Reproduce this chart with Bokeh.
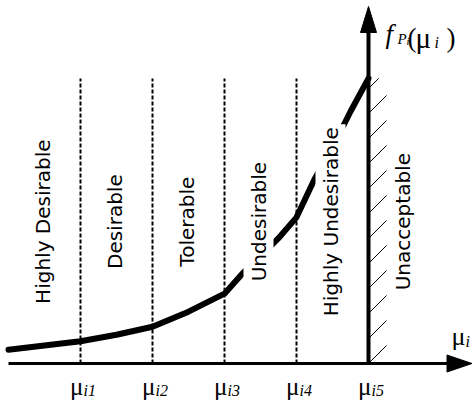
import numpy as np
from bokeh.plotting import figure
from bokeh.models import Range1d
from bokeh.core.properties import value
from bokeh.embed import file_html
from bokeh.resources import INLINE

# ---------------- data ----------------
boundaries = [0, 1, 2, 3, 4, 5, 6]
region_labels = ["Highly Desirable", "Desirable", "Tolerable",
                 "Undesirable", "Highly Undesirable", "Unacceptable"]
tick_pos = [1, 2, 3, 4, 5]
tick_main = "μ"
tick_sub = ["i1", "i2", "i3", "i4", "i5"]
curve_x = [0, 0.5, 1, 1.5, 2, 2.5, 3, 3.25, 3.5, 3.75, 4, 4.25, 4.5, 4.75, 5]
curve_f = [0.19, 0.25, 0.31, 0.40, 0.51, 0.72, 0.97, 1.25, 1.49, 1.74, 2.03,
           2.56, 3.00, 3.50, 3.96]
f_max = 3.96
label_level = 1.97

# ---------------- layout ----------------
PX = 72.0                 # screen pixels per data unit
W, H = 472, 401
OX, OY = 8, 363           # screen position of the data origin


def dx(px):               # screen x -> data x
    return (px - OX) / PX


def dy(py):               # screen y -> data y
    return (OY - py) / PX


p = figure(width=W, height=H, x_range=Range1d(dx(0), dx(W)),
           y_range=Range1d(dy(H), dy(0)), output_backend="svg",
           toolbar_location=None, min_border=0, x_axis_location=None,
           y_axis_location=None, outline_line_color=None,
           background_fill_color="white", border_fill_color="white")
p.xgrid.grid_line_color = None
p.ygrid.grid_line_color = None

# dashed region boundaries
dash_x = tick_pos[:-1]
p.segment(x0=dash_x, y0=[0] * len(dash_x), x1=dash_x, y1=[f_max] * len(dash_x),
          line_dash="4 2", line_width=2, line_color="black")

# hatch of the unacceptable side
xa = tick_pos[-1]
hs, hl = 25 / PX, 18 / PX
ys = np.arange(0, f_max, hs)
ye = np.minimum(ys + hl, f_max)
p.segment(x0=np.full(len(ys), xa), y0=ys, x1=xa + (ye - ys), y1=ye,
          line_width=1, line_color="black")

# preference curve
p.line(curve_x, curve_f, line_width=6, line_color="black",
       line_cap="round", line_join="round")

# horizontal axis with arrow
x_tip = dx(471.5)
ah_l, ah_w = 25 / PX, 8.5 / PX
p.segment(x0=[0], y0=[0], x1=[x_tip - ah_l + 0.02], y1=[0], line_width=3, line_color="black")
p.patch([x_tip - ah_l, x_tip, x_tip - ah_l], [ah_w, 0, -ah_w], color="black")

# vertical axis with arrow
y_tip = dy(6)
av_l, av_w = 26 / PX, 8 / PX
p.segment(x0=[xa], y0=[0], x1=[xa], y1=[y_tip - av_l + 0.02], line_width=4, line_color="black")
p.patch([xa - av_w, xa, xa + av_w], [y_tip - av_l, y_tip, y_tip - av_l], color="black")

# region labels (white box hides the curve behind them)
centers = [(boundaries[k] + boundaries[k + 1]) / 2 for k in range(len(region_labels))]
p.text(x=centers, y=[label_level] * len(centers), text=region_labels,
       angle=np.pi / 2, text_align="center", text_baseline="alphabetic",
       x_offset=-2, text_font=value("DejaVu Sans"), text_font_size="20px",
       text_color="black", background_fill_color="white", padding=3)

# tick labels  μ_{ik}
p.text(x=tick_pos, y=[dy(386)] * len(tick_pos), text=[tick_main] * len(tick_pos),
       text_align="right", text_baseline="alphabetic", x_offset=3,
       text_font=value("Liberation Serif"), text_font_size="25px", text_color="black")
p.text(x=tick_pos, y=[dy(390)] * len(tick_pos), text=tick_sub,
       text_align="left", text_baseline="alphabetic", x_offset=3,
       text_font=value("Liberation Serif"), text_font_style="italic",
       text_font_size="16px", text_color="black")

# horizontal axis name  μ_i
p.text(x=[dx(451)], y=[dy(336)], text=[tick_main], text_align="left",
       text_baseline="alphabetic", text_font=value("Liberation Serif"),
       text_font_size="26px", text_color="black")
p.text(x=[dx(465)], y=[dy(341)], text=["i"], text_align="left",
       text_baseline="alphabetic", text_font=value("Liberation Serif"),
       text_font_style="italic", text_font_size="16px", text_color="black")


# vertical axis name  f_{P_i}(μ_i)
def piece(t, left_px, base_px, size, italic):
    p.text(x=[dx(left_px)], y=[dy(base_px)], text=[t], text_align="left",
           text_baseline="alphabetic", text_font=value("Liberation Serif"),
           text_font_style="italic" if italic else "normal",
           text_font_size=f"{size}px", text_color="black")


piece("f", 385, 33, 27, True)
piece("P", 397, 38, 15, True)
piece("i", 406, 41, 10, True)
piece("(", 407, 37, 27, False)
piece(tick_main, 415, 37, 29, False)
piece("i", 434, 42, 16, True)
piece(")", 446, 37, 27, False)

open("out.html", "w").write(file_html(p, INLINE))
